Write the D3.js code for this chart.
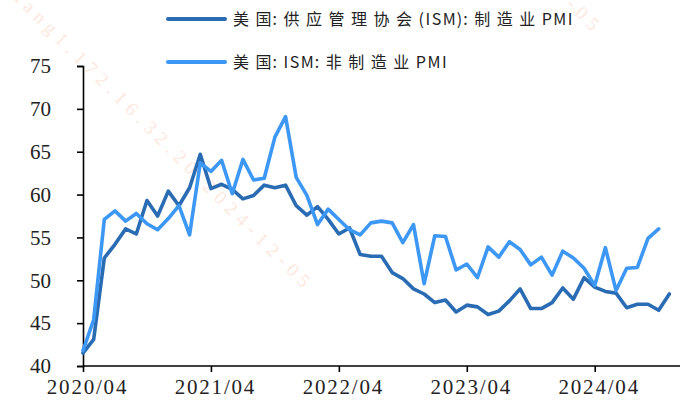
<!DOCTYPE html>
<html><head><meta charset="utf-8">
<script src="https://cdn.jsdelivr.net/npm/d3@7"></script>
<style>
html,body{margin:0;padding:0;background:#fff;}
svg{display:block;}
</style></head>
<body>
<svg id="c" width="686" height="413"></svg>
<script>
const tickLabels = ["2020/04","2021/04","2022/04","2023/04","2024/04"];
const yTicks = [40,45,50,55,60,65,70,75];
const seriesNames = ["美国:供应管理协会(ISM):制造业PMI","美国:ISM:非制造业PMI"];
const watermark = "liang1.172.16.32.20 2024-12-05";
// 2020/04 .. 2024/11
const manufacturing = [41.5,43.1,52.6,54.2,56.0,55.4,59.3,57.5,60.4,
  58.7,60.8,64.7,60.7,61.2,60.6,59.5,59.9,61.1,60.8,61.1,58.7,
  57.6,58.6,57.1,55.4,56.1,53.0,52.8,52.8,50.9,50.2,49.0,48.4,
  47.4,47.7,46.3,47.1,46.9,46.0,46.4,47.6,49.0,46.7,46.7,47.4,
  49.1,47.8,50.3,49.2,48.7,48.5,46.8,47.2,47.2,46.5,48.4];
// 2020/04 .. 2024/10
const services = [41.8,45.4,57.1,58.1,56.9,57.8,56.6,55.9,57.2,
  58.7,55.3,63.7,62.7,64.0,60.1,64.1,61.7,61.9,66.7,69.1,62.0,
  59.9,56.5,58.3,57.1,55.9,55.3,56.7,56.9,56.7,54.4,56.5,49.6,
  55.2,55.1,51.2,51.9,50.3,53.9,52.7,54.5,53.6,51.8,52.7,50.6,
  53.4,52.6,51.4,49.4,53.8,48.8,51.4,51.5,54.9,56.0];
const colors = ["#2a6cb3","#3d97f5"];

const svg = d3.select("#c");
const x = d3.scaleLinear().domain([0,56]).range([83,680]);
const y = d3.scaleLinear().domain([40,75]).range([366,66]);

// watermark
svg.append("text").attr("x",0).attr("y",0)
  .attr("transform","translate(6,-8) rotate(45)")
  .attr("font-family","Liberation Serif").attr("font-size",19)
  .attr("fill","#fee8dd").attr("letter-spacing",6)
  .text(watermark);
svg.append("text").attr("x",0).attr("y",0).attr("text-anchor","end")
  .attr("transform","translate(596,36) rotate(45)")
  .attr("font-family","Liberation Serif").attr("font-size",19)
  .attr("fill","#fee8dd").attr("letter-spacing",6)
  .text(watermark);

const tickFont = "Liberation Serif";
// y axis
const yAxis = svg.append("g").attr("transform","translate(83,0)")
  .call(d3.axisLeft(y).tickValues(yTicks).tickSize(6).tickPadding(26).tickFormat(d3.format("d")));
yAxis.select(".domain").attr("stroke","#000").attr("stroke-width",1.6);
yAxis.selectAll(".tick line").attr("stroke","#000").attr("stroke-width",1.6);
yAxis.selectAll("text").attr("font-family",tickFont).attr("font-size",21).attr("fill","#222");

// x axis
const xAxis = svg.append("g").attr("transform","translate(0,366)")
  .call(d3.axisBottom(x).tickValues([0,12,24,36,48]).tickSize(6).tickPadding(7)
    .tickFormat((d,i)=>tickLabels[i]));
xAxis.select(".domain").attr("stroke","#000").attr("stroke-width",1.6).attr("d","M83,0H680");
xAxis.selectAll(".tick line").attr("stroke","#000").attr("stroke-width",1.6);
xAxis.selectAll("text").attr("font-family",tickFont).attr("font-size",21).attr("fill","#222")
  .attr("letter-spacing",1.8).attr("dx",4);

const line = d3.line().x((d,i)=>x(i)).y(d=>y(d));
[manufacturing,services].forEach((s,k)=>{
  svg.append("path").datum(s).attr("d",line).attr("fill","none")
    .attr("stroke",colors[k]).attr("stroke-width",3.6)
    .attr("stroke-linejoin","round").attr("stroke-linecap","round");
});
// legend
const legY = [19,62];
seriesNames.forEach((n,k)=>{
  svg.append("line").attr("x1",168).attr("x2",225).attr("y1",legY[k]).attr("y2",legY[k])
    .attr("stroke",colors[k]).attr("stroke-width",4).attr("stroke-linecap","round");
  const t = svg.append("text").attr("x",233).attr("y",legY[k]+6)
    .attr("font-family","Noto Sans CJK SC").attr("font-size",16).attr("fill","#222");
  const chars = Array.from(n);
  chars.forEach((c,i)=>{
    const next = chars[i+1];
    const cjk = !/[\x00-\x7f]/.test(c);
    let sp;
    if (next === ":" || next === ")") sp = 1;
    else if (cjk || c === ":") sp = 6.5;
    else sp = 1.5;
    t.append("tspan").attr("letter-spacing", sp).text(c);
  });
});
</script>
</body></html>
